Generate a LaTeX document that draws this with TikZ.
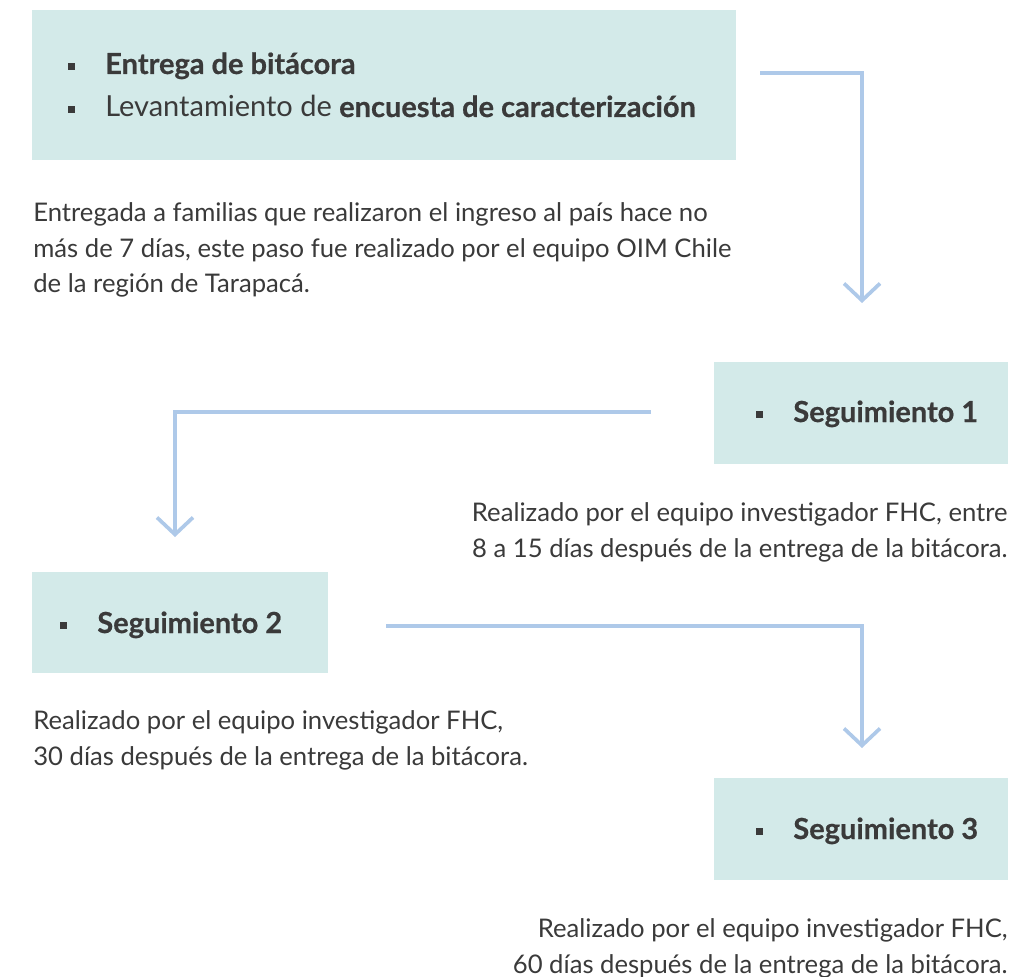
\documentclass[tikz,border=0pt]{standalone}
\usepackage{fontspec}
\setmainfont{Lato}[BoldFeatures={FakeBold=0.6}]
\usetikzlibrary{arrows.meta}
\definecolor{boxfill}{HTML}{D3EAE9}
\definecolor{flow}{HTML}{AEC9E9}
\definecolor{ink}{HTML}{3A3A3A}
\newcommand{\sqb}{\rule[0.3ex]{3.6pt}{3.6pt}}
\newcommand{\bull}[1]{\makebox[0.74cm][l]{\sqb}#1}

\begin{document}
\begin{tikzpicture}[x=0.02cm, y=-0.02cm, line cap=butt,
    every node/.style={text=ink, inner sep=0pt, font=\fontsize{14.6}{20.4}\selectfont},
    box/.style={fill=boxfill, anchor=north west},
    title/.style={anchor=base west, font=\fontsize{16.5}{20}\selectfont},
    flowline/.style={draw=flow, line width=2.1pt, -{Straight Barb[length=3.4mm, width=7.2mm, line width=2.1pt]}}]
    \useasboundingbox (0,0) rectangle (1023,976);
    % boxes
    \node[box, minimum width=14.08cm, minimum height=3cm] (entrega) at (32,10) {};
    \node[box, minimum width=5.88cm, minimum height=2.04cm] (seg1) at (714,362) {};
    \node[box, minimum width=5.92cm, minimum height=2.02cm] (seg2) at (32,572) {};
    \node[box, minimum width=5.88cm, minimum height=2.04cm] (seg3) at (714,778) {};
    % titles
    \node[title] (t1a) at (68,74) {\bull{\textbf{Entrega de bitácora}}};
    \node[title] (t1b) at (68,117) {\bull{Levantamiento de \textbf{encuesta de caracterización}}};
    \node[title] (t2) at (756,422) {\bull{\textbf{Seguimiento 1}}};
    \node[title] (t3) at (60,633) {\bull{\textbf{Seguimiento 2}}};
    \node[title] (t4) at (756,839) {\bull{\textbf{Seguimiento 3}}};
    % descriptions (base = last line)
    \node[anchor=base west, align=left] (d1) at (33,293) {Entregada a familias que realizaron el ingreso al país hace no\\más de 7 días, este paso fue realizado por el equipo OIM Chile\\de la región de Tarapacá.};
    \node[anchor=base east, align=right] (d2) at (1008,557) {Realizado por el equipo investigador FHC, entre\\8 a 15 días después de la entrega de la bitácora.};
    \node[anchor=base west, align=left] (d3) at (33,765) {Realizado por el equipo investigador FHC,\\30 días después de la entrega de la bitácora.};
    \node[anchor=base east, align=right] (d4) at (1008,973) {Realizado por el equipo investigador FHC,\\60 días después de la entrega de la bitácora.};
    % connectors
    \coordinate (a1s) at (760,73);
    \coordinate (a1e) at (862,303);
    \coordinate (a2s) at (651,412);
    \coordinate (a2e) at (175,537);
    \coordinate (a3s) at (386,626);
    \coordinate (a3e) at (862,748);
    \draw[flowline] (a1s) -| (a1e);
    \draw[flowline] (a2s) -| (a2e);
    \draw[flowline] (a3s) -| (a3e);
\end{tikzpicture}
\end{document}
